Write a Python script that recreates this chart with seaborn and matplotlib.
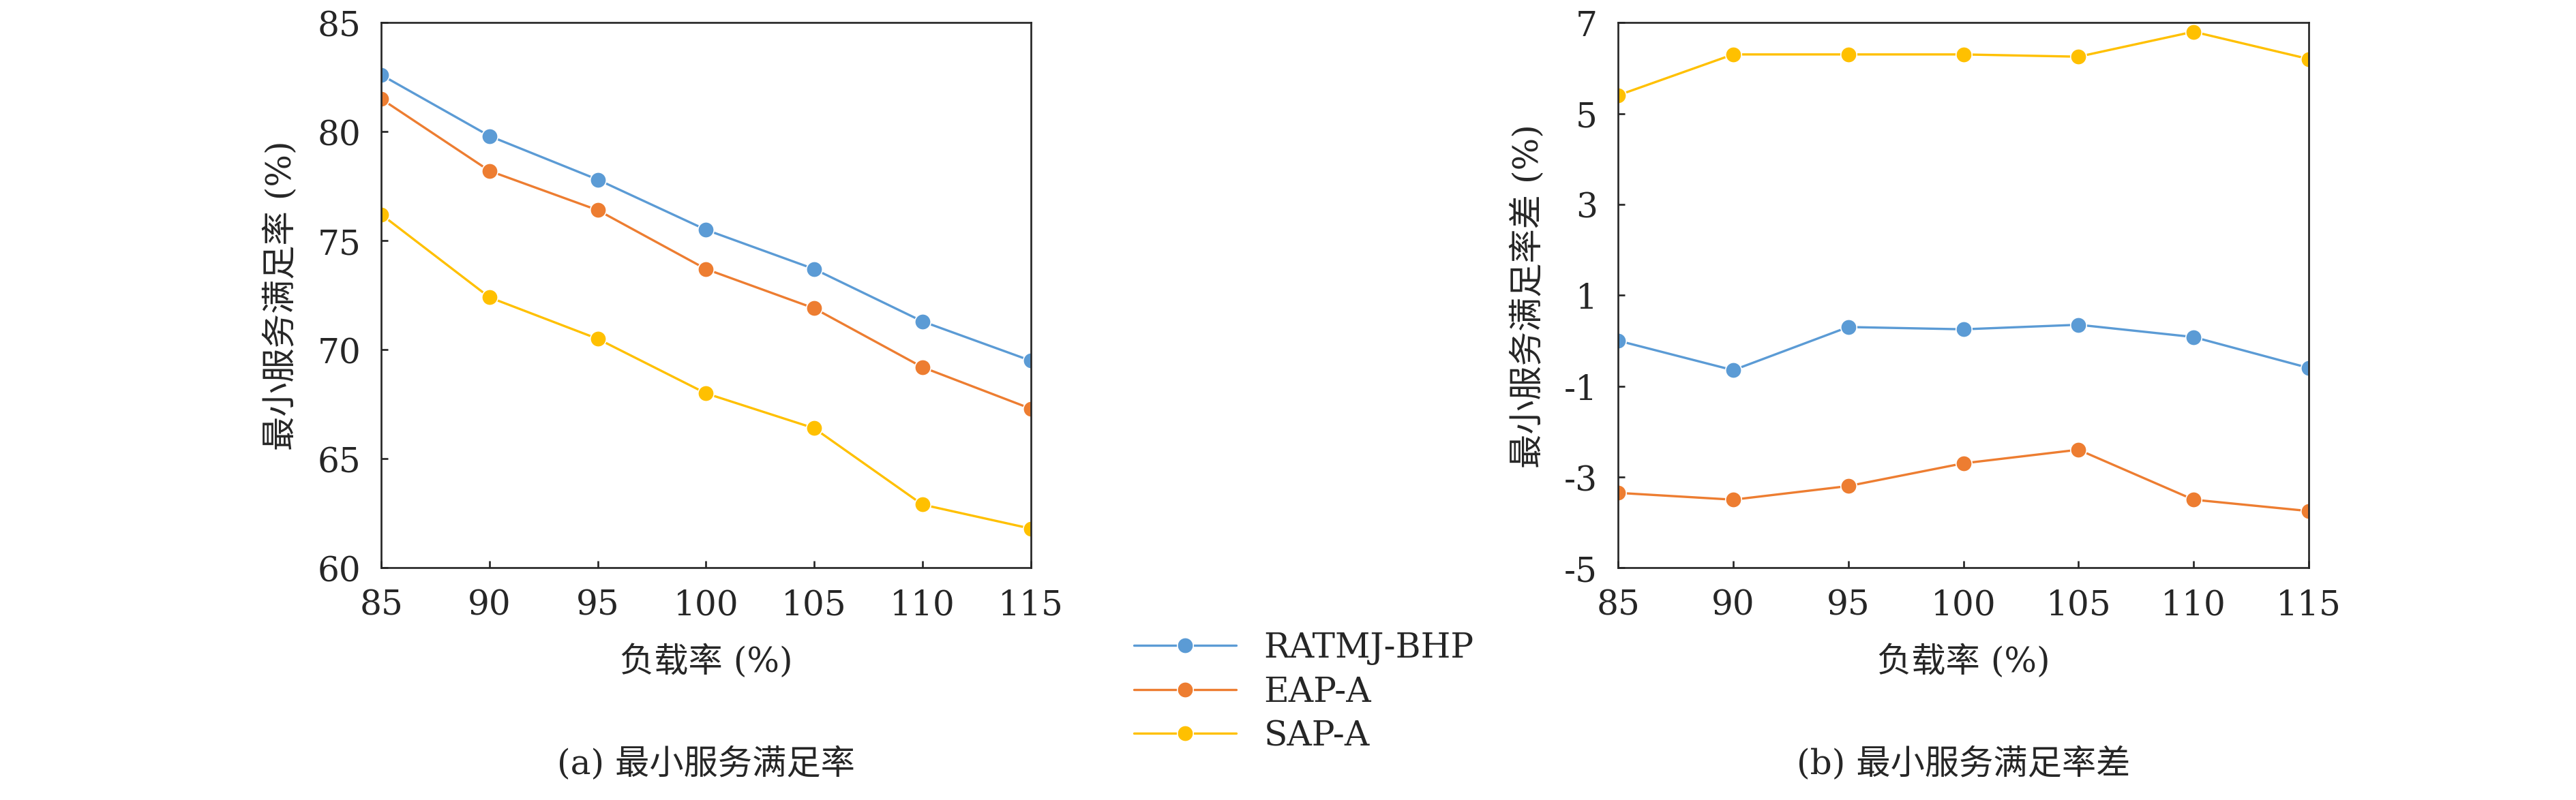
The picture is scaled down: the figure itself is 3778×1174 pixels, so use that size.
import matplotlib
matplotlib.use("Agg")
import matplotlib.pyplot as plt
import seaborn as sns
import pandas as pd

load = [85, 90, 95, 100, 105, 110, 115]
series_names = ["RATMJ-BHP", "EAP-A", "SAP-A"]
min_rate = {
    "RATMJ-BHP": [82.6, 79.8, 77.8, 75.5, 73.7, 71.3, 69.5],
    "EAP-A": [81.5, 78.2, 76.4, 73.7, 71.9, 69.2, 67.3],
    "SAP-A": [76.2, 72.4, 70.5, 68.0, 66.4, 62.9, 61.8],
}
rate_diff = {
    "RATMJ-BHP": [0.0, -0.65, 0.3, 0.25, 0.35, 0.08, -0.6],
    "EAP-A": [-3.35, -3.5, -3.2, -2.7, -2.4, -3.5, -3.75],
    "SAP-A": [5.4, 6.3, 6.3, 6.3, 6.25, 6.8, 6.2],
}
colors = ["#5B9BD5", "#ED7D31", "#FFC000"]

sns.set_style("ticks")
plt.rcParams["font.family"] = ["DejaVu Serif", "Noto Sans CJK SC"]
plt.rcParams["axes.unicode_minus"] = False


def to_long(d):
    rows = []
    for name in series_names:
        for x, v in zip(load, d[name]):
            rows.append({"load": x, "value": v, "method": name})
    return pd.DataFrame(rows)


fig = plt.figure(figsize=(15.68, 4.875), dpi=241)
ax1 = fig.add_axes([0.148, 0.29, 0.252, 0.681])
ax2 = fig.add_axes([0.628, 0.29, 0.268, 0.681])

for ax, d in [(ax1, min_rate), (ax2, rate_diff)]:
    sns.lineplot(data=to_long(d), x="load", y="value", hue="method",
                 palette=colors, marker="o", markersize=7, linewidth=1.0,
                 markeredgewidth=0.5, markeredgecolor="white", ax=ax, legend=(ax is ax1))
    ax.set_xlim(85, 115)
    ax.set_xticks(load)
    ax.set_xlabel("负载率 (%)", fontsize=15, labelpad=10)
    ax.tick_params(labelsize=15, direction="in", length=3, pad=9)
    for s in ax.spines.values():
        s.set_visible(True)
        s.set_linewidth(0.8)

ax1.set_ylim(60, 85)
ax1.set_yticks([60, 65, 70, 75, 80, 85])
ax1.set_ylabel("最小服务满足率 (%)", fontsize=15, labelpad=8)
ax2.set_ylim(-5, 7)
ax2.set_yticks([-5, -3, -1, 1, 3, 5, 7])
ax2.set_ylabel("最小服务满足率差 (%)", fontsize=15, labelpad=8)

handles, labels = ax1.get_legend_handles_labels()
ax1.get_legend().remove()
fig.legend(handles, labels, loc="center", bbox_to_anchor=(0.506, 0.135),
           frameon=False, fontsize=15, handlelength=3, labelspacing=0.3)

fig.text(0.274, 0.045, "(a) 最小服务满足率", ha="center", va="center", fontsize=15)
fig.text(0.762, 0.045, "(b) 最小服务满足率差", ha="center", va="center", fontsize=15)

fig.savefig("out.png", dpi=241)
